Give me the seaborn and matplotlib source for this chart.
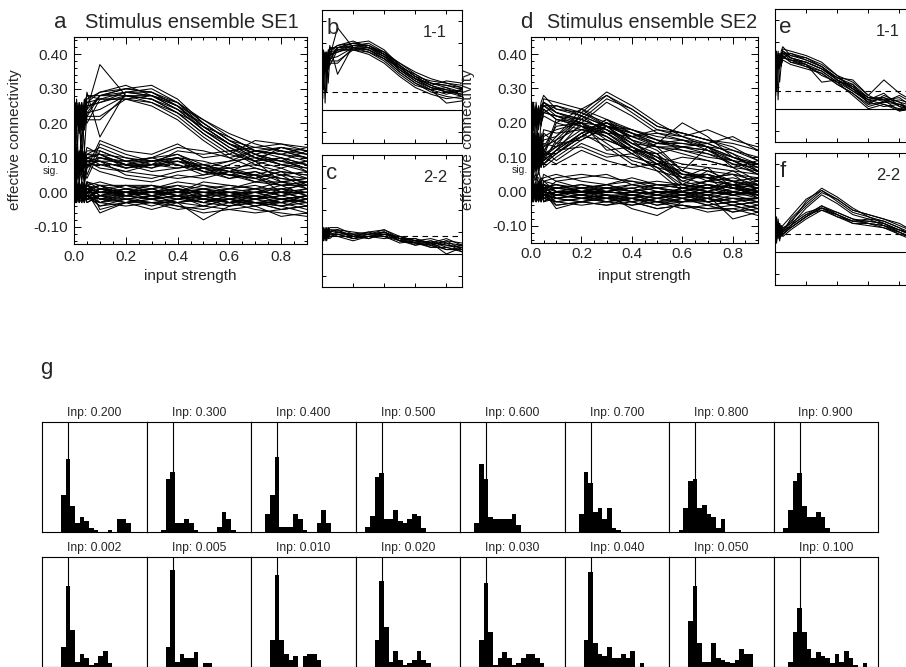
import numpy as np
import pandas as pd
import matplotlib
matplotlib.use("Agg")
import matplotlib.pyplot as plt
import seaborn as sns
from matplotlib.ticker import MultipleLocator, FormatStrFormatter, NullFormatter
from matplotlib.transforms import blended_transform_factory

# ---------------------------------------------------------------- data
input_strength = [0.002, 0.005, 0.01, 0.02, 0.03, 0.04, 0.05, 0.1,
                  0.2, 0.3, 0.4, 0.5, 0.6, 0.7, 0.8, 0.9]

# effective connectivity traces, values in units of 0.01
# stimulus ensemble SE1: 1-1 connections
se1_11 = [
    [22, 18, 25, 20, 24, 19, 26, 27, 29, 28, 25, 19, 14, 10, 8, 7],
    [19, 24, 9, 22, 26, 12, 23, 28, 30, 29, 26, 20, 15, 11, 9, 8],
    [25, 20, 23, 17, 21, 27, 24, 37, 28, 27, 24, 18, 13, 9, 7, 9],
    [17, 21, 26, 23, 18, 22, 29, 16, 29, 30, 26, 19, 16, 12, 10, 6],
    [21, 26, 19, 24, 22, 18, 22, 22, 27, 28, 25, 21, 16, 12, 11, 10],
    [23, 5, 22, 26, 14, 25, 21, 21, 28, 27, 23, 17, 12, 8, 6, 5],
    [18, 23, 21, 19, 25, 23, 27, 29, 30, 31, 27, 20, 15, 13, 12, 11],
    [24, 22, 18, 25, 23, 20, 25, 26, 28, 26, 22, 16, 11, 9, 3, 4],
    [20, 25, 24, 21, 19, 26, 28, 28, 29, 29, 25, 19, 14, 11, 13, 12],
    [26, 11, 21, 3, 24, 22, 20, 27, 27, 25, 21, 15, 10, 7, 5, 6],
    [19, 21, 27, 18, 23, 24, 26, 29, 31, 28, 24, 18, 14, 10, 8, 9],
    [22, 24, 20, 26, 21, 19, 23, 24, 28, 28, 26, 21, 17, 14, 12, 10],
    [24, 20, 22, 24, 26, 22, 24, 28, 30, 29, 25, 18, 13, 10, 9, 7],
    [21, 23, 19, 22, 8, 25, 28, 27, 27, 26, 23, 17, 12, 9, 10, 8],
    [18, 22, 24, 20, 22, 21, 25, 26, 29, 28, 24, 20, 15, 11, 8, 6],
    [23, 19, 23, 25, 18, 23, 22, 28, 28, 27, 23, 19, 14, 12, 11, 9],
]
# SE1: 2-2 connections
se1_22 = [
    [8, 11, 6, 9, 10, 7, 9, 10, 8, 9, 10, 7, 6, 5, 4, 3],
    [10, 7, 9, 12, 8, 10, 11, 11, 7, 8, 9, 6, 7, 4, 6, 2],
    [6, 9, 11, 7, 9, 12, 8, 9, 9, 10, 11, 8, 5, 6, 3, 4],
    [11, 8, 7, 10, 6, 9, 10, 8, 6, 8, 8, 5, 6, 7, 5, 1],
    [7, 10, 12, 8, 11, 8, 7, 10, 8, 7, 9, 7, 4, 5, 0, 3],
    [9, 6, 8, 11, 9, 10, 12, 12, 9, 9, 10, 6, 5, 4, 6, 5],
    [12, 9, 10, 7, 8, 11, 9, 9, 7, 8, 7, 8, 6, 3, 5, 4],
    [5, 8, 9, 10, 12, 7, 10, 11, 10, 9, 11, 7, 7, 5, 2, 2],
    [9, 12, 7, 9, 7, 9, 8, 8, 8, 10, 8, 6, 4, 6, 4, 3],
    [8, 7, 11, 6, 10, 8, 11, 10, 9, 7, 10, 7, 5, 3, 3, 1],
    [10, 10, 8, 9, 8, 12, 9, 9, 7, 9, 9, 8, 6, 5, 7, 4],
    [7, 9, 10, 11, 9, 8, 10, 11, 8, 8, 10, 6, 5, 4, 2, 3],
]
# SE1: mixed-class connections with moderate coupling
se1_cross = [
    [3, 8, 13, 5, 10, 2, 7, 15, 12, 11, 14, 10, 11, 15, 14, 13],
    [10, 4, 7, 12, 3, 9, 11, 13, 10, 8, 12, 11, 12, 13, 14, 12],
    [6, 12, 2, 9, 14, 6, 4, 12, 9, 10, 13, 12, 10, 12, 11, 13],
    [14, 5, 9, 3, 7, 12, 8, 6, 4, 3, 5, 4, 6, 9, 13, 11],
    [2, 9, 11, 7, 5, 10, 13, 11, 8, 6, 7, 8, 9, 10, 12, 10],
    [8, 3, 6, 11, 12, 4, 9, 7, 6, 5, 4, 5, 8, 11, 9, 12],
    [12, 7, 4, 8, 6, 11, 5, 14, 11, 9, 10, 9, 7, 8, 10, 8],
    [5, 10, 12, 6, 9, 3, 10, 9, 5, 4, 6, 7, 9, 12, 13, 11],
]
# SE1: remaining, unconnected pairs
se1_other = [
    [-1, 2, -2, 1, -3, 0, 2, -1, -2, -1, 0, -2, -3, -2, -1, -3],
    [1, -2, 0, -3, 1, -1, -2, -3, -1, -2, -1, -3, -2, -4, -3, -2],
    [-3, 0, 2, -1, -2, 2, 0, -6, -3, -2, -3, -8, -4, -3, -5, -4],
    [2, -1, -3, 2, 0, -2, 1, 0, 1, 0, 1, 0, -1, 0, 1, 0],
    [0, 3, 1, -2, 2, 1, -1, -2, -3, -3, -4, -5, -3, -5, -6, -7],
    [-2, 1, -1, 0, -1, -3, 3, 1, 0, 1, 2, 1, 0, -1, -2, -1],
    [3, -3, 2, -1, 1, 0, -1, -4, -2, -4, -2, -3, -4, -2, -3, -5],
    [-1, 1, -2, 3, -2, 2, 0, 2, 2, 1, 3, 2, 1, 2, 0, 1],
    [1, -1, 3, 0, 2, -1, -3, -1, -1, -2, -1, -2, -2, -3, -4, -2],
    [-3, 2, 0, 1, -1, 1, 2, 3, 1, 2, 0, 3, 2, 1, 3, 2],
    [0, -2, 1, -2, 3, -2, 1, -3, -4, -3, -5, -4, -5, -4, -7, -6],
    [2, 0, -1, 2, -1, 3, -2, 1, 0, -1, -2, -1, 0, -2, -1, 0],
    [-2, 3, 2, -1, 0, -1, 1, -2, -1, 0, -1, -1, -3, -1, -2, -3],
    [1, -1, -2, 1, 2, 0, -1, 0, 2, 2, 1, 0, 1, 3, 2, 3],
    [-1, 0, 1, -3, -2, 1, 3, -5, -3, -2, -4, -6, -5, -6, -5, -4],
    [3, 1, -1, 0, 1, -3, 0, 1, -1, 0, 2, -1, -1, 0, -2, -1],
    [0, -3, 2, 2, -1, 0, -2, -1, 1, -1, 0, 1, 2, 1, 1, 2],
    [-2, 2, 0, -2, 3, 2, 1, 2, -2, -3, -3, -2, -4, -3, -4, -6],
    [2, -2, 1, 1, 0, -2, -1, -3, 0, 1, -1, -3, -1, -2, 0, -2],
    [-1, 1, -3, 0, -2, 1, 2, 0, -1, -2, 1, -2, -2, -1, -3, -1],
    [1, -3, 3, -1, 2, -2, 0, -2, 0, -2, -1, -3, -1, -3, -2, -4],
    [-2, 2, -1, 3, -3, 1, -2, 1, -1, 1, -1, 1, -1, 1, -1, 1],
    [3, 0, -2, 0, 2, -1, 2, -1, -3, -1, -3, -1, -3, -1, -3, -1],
    [0, 2, 1, -2, -1, 3, -1, -4, -3, -5, -3, -4, -2, -4, -2, -3],
    [-1, -2, 0, 2, 1, -2, 3, 2, 0, 2, 0, 2, 0, 1, -1, 0],
    [2, 1, -3, 1, -2, 0, 1, -2, -2, -3, -2, -1, -3, -2, -4, -3],
    [-3, 1, 2, -2, 0, 2, -3, -1, 1, -1, 1, -2, 0, -2, 1, -1],
    [1, 0, -1, -1, 3, -1, 0, 0, -1, 0, -2, 0, -2, 0, -2, -1],
    [0, -1, 2, 1, -1, 1, -1, -3, -2, -1, -3, -2, -3, -3, -5, -4],
    [2, -2, 0, 3, 1, -3, 2, 1, 2, 0, 1, -1, 1, 0, 2, -1],
    [-2, 3, -1, -1, 2, 0, -1, -1, 0, -2, -1, -4, -2, -3, -3, -2],
    [1, 1, 1, 0, -3, 2, 1, 2, -1, 0, -1, 1, -1, -1, 0, -2],
]

# stimulus ensemble SE2: 1-1 connections
se2_11 = [
    [20, 25, 18, 23, 21, 26, 28, 24, 22, 19, 14, 10, 5, 4, 2, 0],
    [24, 19, 8, 26, 20, 23, 25, 22, 21, 18, 13, 9, 3, 5, 1, -1],
    [18, 23, 26, 19, 24, 21, 23, 25, 23, 20, 15, 12, 6, 3, 4, 2],
    [22, 26, 20, 22, 18, 25, 26, 23, 20, 12, 13, 8, 4, 2, 0, 1],
    [26, 6, 24, 18, 22, 19, 24, 21, 19, 17, 12, 11, 2, 6, 3, -2],
    [19, 22, 21, 25, 23, 22, 27, 26, 24, 21, 15, 9, 5, 4, -1, 0],
    [23, 18, 25, 21, 12, 20, 22, 20, 18, 16, 11, 7, 1, 3, 2, -1],
    [21, 24, 19, 24, 19, 24, 25, 23, 21, 18, 14, 13, 6, 13, 7, 3],
    [25, 21, 23, 4, 25, 21, 23, 22, 20, 17, 12, 6, 0, 2, -1, 1],
    [20, 23, 22, 24, 21, 23, 26, 24, 23, 19, 13, 10, 4, 4, 5, 0],
    [22, 20, 24, 19, 23, 22, 24, 21, 20, 15, 12, 8, 3, 1, 2, -2],
    [24, 22, 20, 23, 20, 25, 25, 25, 22, 19, 14, 11, 5, 5, 3, 1],
    [19, 24, 23, 21, 24, 20, 23, 22, 19, 16, 11, 7, 2, 3, 6, 2],
    [23, 21, 19, 22, 22, 24, 26, 23, 21, 18, 13, 9, 4, 7, 1, -1],
]
# SE2: 2-2 connections
se2_22 = [
    [8, 15, 4, 12, 6, 10, 9, 15, 22, 28, 23, 18, 16, 14, 11, 8],
    [12, 5, 14, 7, 11, 8, 10, 14, 21, 27, 24, 19, 17, 15, 12, 9],
    [6, 13, 9, 15, 8, 12, 11, 13, 23, 29, 25, 20, 16, 13, 10, 7],
    [10, 7, 16, 9, 13, 9, 8, 12, 20, 26, 22, 17, 15, 14, 11, 6],
    [14, 9, 7, 11, 5, 11, 12, 16, 24, 28, 24, 19, 17, 15, 13, 9],
    [9, 12, 6, 10, 8, 9, 8, 11, 16, 20, 17, 14, 14, 13, 9, 6],
    [5, 10, 13, 7, 12, 10, 9, 12, 17, 21, 18, 15, 13, 12, 10, 7],
    [11, 6, 9, 13, 7, 8, 10, 13, 18, 20, 16, 14, 15, 12, 8, 5],
    [7, 14, 11, 8, 10, 12, 7, 10, 15, 19, 17, 13, 13, 11, 9, 6],
    [13, 8, 5, 12, 9, 7, 11, 11, 16, 20, 18, 15, 14, 13, 10, 8],
    [4, 11, 10, 6, 13, 9, 9, 12, 17, 19, 16, 13, 12, 11, 8, 7],
    [10, 9, 12, 9, 6, 11, 8, 11, 16, 21, 17, 14, 13, 12, 9, 5],
]
# SE2: mixed-class connections
se2_cross = [
    [5, 14, 9, 18, 7, 12, 16, 18, 20, 19, 17, 15, 12, 10, 9, 8],
    [12, 6, 17, 10, 15, 8, 13, 15, 19, 18, 15, 13, 11, 9, 7, 6],
    [9, 16, 7, 13, 11, 17, 10, 20, 24, 19, 18, 16, 15, 13, 12, 10],
    [15, 8, 12, 6, 17, 11, 14, 13, 16, 15, 12, 9, 7, 6, 5, 4],
    [7, 13, 15, 9, 10, 14, 18, 17, 18, 17, 16, 18, 17, 15, 14, 12],
    [11, 9, 6, 16, 13, 7, 12, 9, 14, 11, 10, 8, 6, 4, 5, 3],
    [16, 11, 10, 12, 8, 15, 11, 21, 19, 14, 9, 7, 5, 4, 3, 4],
    [6, 15, 13, 8, 14, 10, 9, 12, 13, 10, 11, 14, 20, 16, 10, 8],
    [13, 7, 11, 14, 9, 13, 15, 16, 22, 17, 13, 10, 8, 7, 6, 5],
    [8, 12, 14, 7, 16, 9, 17, 14, 15, 19, 16, 17, 16, 18, 15, 13],
    [10, 16, 8, 11, 12, 16, 11, 11, 17, 13, 8, 6, 4, 5, 3, 2],
    [14, 10, 16, 15, 7, 12, 13, 19, 20, 16, 12, 11, 13, 14, 16, 12],
    [3, 6, 4, 5, 2, 4, 3, 4, 5, 4, 3, 1, 0, 1, 0, -1],
    [4, 2, 5, 3, 6, 3, 4, 5, 3, 2, 4, 2, 1, 2, 1, 0],
    [2, 5, 3, 4, 4, 2, 5, 3, 4, 5, 2, 3, 2, 0, 2, 1],
    [9, 11, 12, 10, 13, 11, 10, 8, 12, 9, 7, 8, 10, 9, 7, 9],
]
# SE2: remaining, unconnected pairs
se2_other = [
    [1, -2, 2, 0, -1, 1, -3, -1, -2, -1, -3, -2, -1, -3, -2, -4],
    [-2, 1, -1, 2, 1, -3, 0, -5, -3, -4, -2, -3, -5, -4, -6, -5],
    [2, 0, -2, -1, 3, 0, 2, 1, 0, -1, -5, -7, -3, -2, -4, -3],
    [0, 3, 1, -3, -2, 2, -1, -2, -1, 0, -1, 0, -2, -1, -8, -6],
    [-3, -1, 0, 1, 2, -1, 1, 0, 1, 2, 0, 1, 0, 2, 1, 0],
    [1, 2, -3, 0, -1, 2, -2, -3, -4, -3, -4, -3, -4, -5, -5, -7],
    [-1, -2, 2, 1, 0, -2, 3, 2, 0, 1, 1, -1, 1, 0, -1, 1],
    [3, 0, -1, -2, 1, 1, -1, -1, -2, -2, -1, -2, -3, -2, -3, -2],
    [-2, 2, 1, 3, -3, 0, 0, 1, 2, 0, 2, 1, 2, 1, 2, 2],
    [0, -3, 0, -1, 2, -1, 2, -2, -1, -3, -2, -4, -2, -4, -3, -5],
    [2, 1, 3, 0, 0, 3, -2, 0, -1, 1, 0, -1, -1, -2, 0, -1],
    [-1, 0, -2, 2, -2, -1, 1, -4, -3, -2, -3, -5, -4, -6, -5, -4],
    [1, -1, 0, -2, 1, 2, 0, 3, 1, 2, 3, 2, 1, 3, 2, 3],
    [-3, 2, 2, 1, -1, -2, 1, -1, 0, -1, -2, 0, -1, -1, -2, -2],
    [2, -2, -1, 0, 3, 1, -1, 0, -2, 0, -1, -2, 0, -3, -1, -3],
    [0, 1, 1, -1, -1, 0, 2, 1, 1, 0, 1, 2, 2, 1, 3, 1],
    [-1, 3, -2, 2, 0, -3, 0, -3, -2, -3, -1, -3, -3, -2, -4, -6],
    [1, -1, 2, -3, 1, 1, -3, 0, -1, -2, 0, -1, -2, 0, -1, 0],
    [-2, 0, 0, 1, 2, -1, 1, 2, 0, 1, -1, 0, 0, -1, 1, -1],
    [3, -2, 1, -1, -2, 2, -1, -2, -3, -1, -2, -3, -1, -3, -2, -3],
    [-1, 2, 0, -2, 1, 3, -1, -2, -3, -2, -4, -2, -3, -2, -4, -3],
    [2, -1, 1, 2, -2, 0, 1, 1, 0, 2, 0, 1, -1, 1, -1, 0],
    [0, 1, -3, 1, 2, -2, 0, -1, 1, -1, -1, -3, -2, -4, -3, -5],
    [-2, -1, 2, -1, 0, 1, 2, 0, -1, 0, 1, -1, 1, -1, 0, -2],
    [3, 2, -1, 0, -3, -1, -2, -3, -2, -3, -2, -4, -3, -3, -6, -4],
    [1, -3, 0, 2, 1, 2, 1, 2, 1, 1, 2, 0, 0, 2, 1, 2],
    [-1, 0, 1, -1, 2, -2, -2, -1, -2, -1, -3, -1, -2, -3, -2, -2],
    [0, 2, 2, -3, -1, 0, 3, 0, 0, -2, -1, -2, -1, 0, -1, -1],
    [2, -1, -2, 1, 0, 1, -1, -4, -3, -4, -3, -5, -4, -5, -4, -6],
    [-3, 1, 1, 0, 3, -1, 0, 1, 2, 1, 0, 2, 1, 0, 2, 0],
    [1, 0, -1, 2, -2, 2, -3, -2, -1, -2, -2, -1, -3, -1, -3, -2],
    [-1, 3, 0, -1, 1, -3, 1, -1, 0, 0, -1, 0, 0, -2, 0, -1],
]

sig_level = 0.08

# histograms of connectivity values (SE1) at selected input strengths
hist_centers = [-0.075, -0.05, -0.025, 0.0, 0.025, 0.05, 0.075, 0.1, 0.125, 0.15,
                0.175, 0.2, 0.225, 0.25, 0.275, 0.3, 0.325, 0.35, 0.375, 0.4]
hist_inputs_top = ["0.200", "0.300", "0.400", "0.500", "0.600", "0.700", "0.800", "0.900"]
hist_counts_top = [
    [0, 0, 20, 40, 14, 5, 8, 6, 2, 1, 0, 0, 1, 0, 7, 7, 5, 0, 0, 0],
    [0, 1, 29, 33, 5, 5, 7, 5, 1, 0, 0, 0, 0, 3, 11, 7, 1, 0, 0, 0],
    [0, 10, 20, 41, 3, 3, 3, 10, 7, 1, 0, 0, 5, 12, 5, 0, 0, 0, 0, 0],
    [3, 9, 30, 32, 7, 7, 12, 6, 5, 7, 10, 9, 2, 0, 0, 0, 0, 0, 0, 0],
    [0, 5, 37, 29, 8, 7, 7, 7, 7, 10, 4, 0, 0, 0, 0, 0, 0, 0, 0, 0],
    [0, 10, 33, 27, 11, 13, 7, 13, 2, 1, 0, 0, 0, 0, 0, 0, 0, 0, 0, 0],
    [1, 13, 28, 29, 13, 15, 10, 8, 2, 7, 0, 0, 0, 0, 0, 0, 0, 0, 0, 0],
    [2, 12, 28, 32, 14, 8, 8, 11, 8, 2, 0, 0, 0, 0, 0, 0, 0, 0, 0, 0],
]
hist_inputs_bottom = ["0.002", "0.005", "0.010", "0.020", "0.030", "0.040", "0.050", "0.100"]
hist_counts_bottom = [
    [0, 0, 11, 44, 20, 3, 7, 5, 1, 2, 6, 9, 2, 0, 0, 0, 0, 0, 0, 0],
    [0, 0, 11, 53, 3, 7, 5, 5, 8, 0, 2, 2, 0, 0, 0, 0, 0, 0, 0, 0],
    [0, 0, 15, 50, 15, 7, 4, 6, 0, 6, 7, 7, 4, 0, 0, 0, 0, 0, 0, 0],
    [0, 0, 15, 47, 22, 3, 9, 4, 1, 2, 4, 9, 4, 2, 0, 0, 0, 0, 0, 0],
    [0, 0, 15, 46, 19, 1, 5, 8, 5, 1, 2, 5, 7, 7, 5, 2, 0, 0, 0, 0],
    [0, 0, 15, 52, 13, 7, 6, 11, 5, 5, 7, 5, 9, 0, 2, 0, 0, 0, 0, 0],
    [0, 0, 25, 44, 13, 3, 3, 13, 5, 4, 3, 2, 4, 10, 7, 7, 0, 0, 0, 0],
    [0, 3, 19, 32, 19, 10, 5, 8, 6, 5, 2, 7, 3, 9, 5, 1, 0, 2, 0, 0],
]

# ---------------------------------------------------------------- style
sns.set_theme(style="white")
plt.rcParams["font.family"] = ["Liberation Sans", "DejaVu Sans"]
plt.rcParams["axes.edgecolor"] = "black"
plt.rcParams["axes.linewidth"] = 0.8

W, H = 906, 667
fig = plt.figure(figsize=(W / 100, H / 100), dpi=100)
fig.patch.set_facecolor("white")


def px_axes(left, top, right, bottom):
    return fig.add_axes([left / W, 1 - bottom / H, (right - left) / W, (bottom - top) / H])


def fx(px):
    return px / W


def fy(py):
    return 1 - py / H


def traces_frame(*groups):
    rows = []
    uid = 0
    for grp in groups:
        for tr in grp:
            for x, v in zip(input_strength, tr):
                rows.append((uid, x, v / 100.0))
            uid += 1
    return pd.DataFrame(rows, columns=["trace", "input", "conn"])


def trace_panel(ax, groups, labels=True, pad=4):
    ax.axhline(0.0, color="black", lw=0.8, zorder=1)
    ax.axhline(sig_level, color="black", lw=0.8, ls=(0, (5, 4)), zorder=1)
    sns.lineplot(data=traces_frame(*groups), x="input", y="conn", units="trace",
                 estimator=None, color="black", lw=0.75, sort=False, ax=ax, zorder=2)
    ax.set_xlim(0, 0.9)
    ax.set_ylim(-0.15, 0.45)
    ax.set_xlabel("")
    ax.set_ylabel("")
    ax.xaxis.set_major_locator(MultipleLocator(0.2))
    ax.xaxis.set_minor_locator(MultipleLocator(0.05))
    ax.yaxis.set_major_locator(MultipleLocator(0.1))
    ax.yaxis.set_minor_locator(MultipleLocator(0.02))
    ax.tick_params(which="both", direction="in", top=True, right=True,
                   bottom=True, left=True, color="black", width=0.7)
    ax.tick_params(which="major", length=5, labelsize=11, pad=pad)
    ax.tick_params(which="minor", length=2.5)
    if labels:
        ax.xaxis.set_major_formatter(FormatStrFormatter("%.1f"))
        ax.yaxis.set_major_formatter(FormatStrFormatter("%.2f"))
    else:
        ax.xaxis.set_major_formatter(NullFormatter())
        ax.yaxis.set_major_formatter(NullFormatter())
        ax.tick_params(which="major", length=3)
        ax.tick_params(which="minor", length=0)
    for s in ax.spines.values():
        s.set_color("black")
        s.set_linewidth(0.8)


# ---------------------------------------------------------------- panels a-f
ax_a = px_axes(74, 37, 307, 244)
trace_panel(ax_a, [se1_other, se1_cross, se1_22, se1_11], pad=4)
ax_b = px_axes(322, 10, 462, 143)
trace_panel(ax_b, [se1_11], labels=False)
ax_c = px_axes(322, 155, 462, 287)
trace_panel(ax_c, [se1_22], labels=False)

ax_d = px_axes(531, 37, 758, 243)
trace_panel(ax_d, [se2_other, se2_cross, se2_22, se2_11], pad=3)
ax_e = px_axes(775, 9, 915, 142)
trace_panel(ax_e, [se2_11], labels=False)
ax_f = px_axes(775, 153, 915, 285)
trace_panel(ax_f, [se2_22], labels=False)

for ax, sx in ((ax_a, 51), (ax_d, 520)):
    tr = blended_transform_factory(fig.transFigure, ax.transData)
    ax.text(fx(sx), 0.063, "sig.", transform=tr, ha="center", va="center", fontsize=7.5)

# titles and axis labels
fig.text(fx(60), fy(28), "a", fontsize=16, ha="center", va="baseline")
fig.text(fx(85), fy(28), "Stimulus ensemble SE1", fontsize=14.5, ha="left", va="baseline")
fig.text(fx(526), fy(28), "d", fontsize=16, ha="center", va="baseline")
fig.text(fx(547), fy(28), "Stimulus ensemble SE2", fontsize=14.2, ha="left", va="baseline")
for x in (15, 468):
    fig.text(fx(x), fy(140), "effective connectivity", rotation=90, fontsize=11,
             ha="center", va="center")
for x in (190, 644):
    fig.text(fx(x), fy(276), "input strength", fontsize=11, ha="center", va="center")

for ax, letter, tag in ((ax_b, "b", "1-1"), (ax_c, "c", "2-2"),
                        (ax_e, "e", "1-1"), (ax_f, "f", "2-2")):
    ax.text(0.03, 0.86, letter, transform=ax.transAxes, fontsize=16,
            ha="left", va="center")
    ax.text(0.72, 0.83, tag, transform=ax.transAxes, fontsize=12,
            ha="left", va="center")

# ---------------------------------------------------------------- panel g
fig.text(fx(46), fy(374), "g", fontsize=16, ha="center", va="baseline")

col_left, col_w = 42, 104.5
rows = ((422, 532, 416, hist_inputs_top, hist_counts_top),
        (557, 667, 551, hist_inputs_bottom, hist_counts_bottom))
for top, bottom, ty, inputs, counts in rows:
    for i, (inp, cnt) in enumerate(zip(inputs, counts)):
        left = col_left + i * col_w
        ax = px_axes(left, top, left + col_w, bottom)
        ax.axvline(0.0, color="black", lw=0.8, zorder=0)
        sns.histplot(x=hist_centers, weights=cnt, binwidth=0.025,
                     binrange=(-0.0875, 0.4125), color="black", alpha=1,
                     linewidth=0, ax=ax, zorder=2)
        ax.set_xlim(-0.14, 0.42)
        ax.set_ylim(0, 60)
        ax.set_xlabel("")
        ax.set_ylabel("")
        ax.set_xticks([])
        ax.set_yticks([])
        for s in ax.spines.values():
            s.set_color("black")
            s.set_linewidth(0.8)
        fig.text(fx(left + col_w / 2), fy(ty), "Inp: " + inp, fontsize=8.7,
                 ha="center", va="baseline")

fig.savefig("out.png", dpi=100, facecolor="white")
